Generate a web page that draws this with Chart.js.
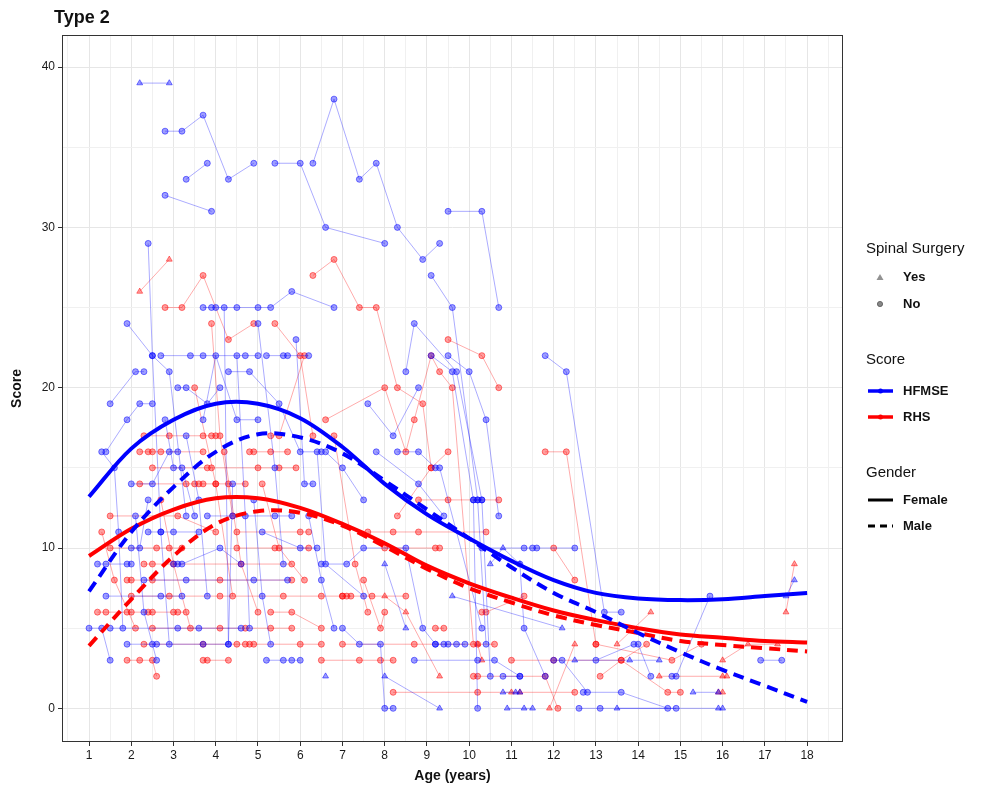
<!DOCTYPE html>
<html>
<head>
<meta charset="utf-8">
<script src="https://cdn.jsdelivr.net/npm/chart.js@4.4.1/dist/chart.umd.min.js"></script>
<style>
    body { margin: 0; background: #fff; font-family: "Liberation Sans", Arial, sans-serif; }
    #wrap { position: relative; width: 981px; height: 788px; }
    #title { position: absolute; left: 54px; top: 7px; font-size: 18px; font-weight: bold; color: #111; }
    .lt { position: absolute; left: 866px; font-size: 15px; color: #111; line-height: 18px; }
    .li { position: absolute; left: 866px; font-size: 13px; font-weight: bold; color: #111; line-height: 16px; }
    .li svg { position: absolute; left: 0; top: 0; }
    .li span { position: absolute; left: 37px; top: 0; white-space: nowrap; }
</style>
</head>
<body>
<div id="wrap">
    <canvas id="typeChart" width="981" height="788"></canvas>
    <div id="title">Type 2</div>

    <div class="lt" style="top:239px">Spinal Surgery</div>
    <div class="li" style="top:269px"><svg width="30" height="16"><polygon points="14,5 17.5,11 10.5,11" fill="#777" opacity="0.8"/></svg><span>Yes</span></div>
    <div class="li" style="top:296px"><svg width="30" height="16"><circle cx="14" cy="8" r="2.6" fill="#888" stroke="#555" stroke-width="0.8"/></svg><span>No</span></div>

    <div class="lt" style="top:350px">Score</div>
    <div class="li" style="top:383px"><svg width="30" height="16"><line x1="2" y1="8" x2="27" y2="8" stroke="#0000ff" stroke-width="3.5"/><circle cx="14.5" cy="8" r="2.5" fill="#0000ff"/></svg><span>HFMSE</span></div>
    <div class="li" style="top:409px"><svg width="30" height="16"><line x1="2" y1="8" x2="27" y2="8" stroke="#ff0000" stroke-width="3.5"/><circle cx="14.5" cy="8" r="2.5" fill="#ff0000"/></svg><span>RHS</span></div>

    <div class="lt" style="top:463px">Gender</div>
    <div class="li" style="top:492px"><svg width="30" height="16"><line x1="2" y1="8" x2="27" y2="8" stroke="#000" stroke-width="3"/></svg><span>Female</span></div>
    <div class="li" style="top:518px"><svg width="30" height="16"><line x1="2" y1="8" x2="27" y2="8" stroke="#000" stroke-width="3" stroke-dasharray="7,5"/></svg><span>Male</span></div>
</div>

<script>
// tick labels
const ageTicks = [1, 2, 3, 4, 5, 6, 7, 8, 9, 10, 11, 12, 13, 14, 15, 16, 17, 18];
const scoreTicks = [0, 10, 20, 30, 40];

// smoothed group curves, read at whole years
const curveAges = [1, 2, 3, 4, 5, 6, 7, 8, 9, 10, 11, 12, 13, 14, 15, 16, 17, 18];
const hfmseFemale = [13.2, 16.2, 18.0, 19.0, 19.0, 18.1, 16.3, 14.0, 12.1, 10.6, 9.2, 8.0, 7.2, 6.85, 6.75, 6.8, 7.0, 7.2];
const hfmseMale = [7.3, 11.0, 13.8, 16.0, 17.1, 16.9, 15.9, 14.2, 12.4, 10.6, 8.8, 7.2, 6.0, 4.7, 3.5, 2.4, 1.4, 0.4];
const rhsFemale = [9.5, 11.2, 12.4, 13.1, 13.1, 12.5, 11.5, 10.3, 8.9, 7.8, 6.9, 6.1, 5.5, 5.0, 4.6, 4.4, 4.2, 4.1];
const rhsMale = [3.9, 6.8, 9.5, 11.5, 12.3, 12.2, 11.4, 10.1, 8.7, 7.5, 6.6, 5.8, 5.2, 4.7, 4.2, 3.95, 3.75, 3.55];

// one entry per patient: [age, score] visits
const hfmseNo = [
    [[2.8, 36], [3.2, 36], [3.7, 37], [4.3, 33], [4.9, 34]],
    [[3.3, 33], [3.8, 34]],
    [[2.8, 32], [3.9, 31]],
    [[5.4, 34], [6.0, 34], [6.6, 30], [8.0, 29]],
    [[6.3, 34], [6.8, 38], [7.4, 33], [7.8, 34], [8.3, 30], [8.9, 28], [9.3, 29]],
    [[9.5, 31], [10.3, 31], [10.7, 25]],
    [[9.1, 27], [9.6, 25], [10.2, 13], [10.4, 4]],
    [[8.5, 21], [8.7, 24], [9.7, 21], [10.3, 13], [10.5, 2]],
    [[9.1, 22], [9.6, 21], [10.1, 13], [10.2, 0]],
    [[9.5, 22], [10.0, 21], [10.4, 18], [10.7, 12]],
    [[2.4, 29], [2.5, 22], [2.7, 11], [2.9, 4]],
    [[1.9, 24], [2.5, 22], [2.9, 21], [3.3, 12]],
    [[3.7, 25], [3.9, 25], [4.0, 25], [4.5, 25], [5.0, 25], [5.3, 25], [5.8, 26], [6.8, 25]],
    [[2.7, 22], [3.4, 22], [3.7, 22], [4.7, 22], [5.0, 22]],
    [[5.2, 22], [5.6, 22], [5.7, 22], [6.2, 22]],
    [[1.5, 19], [2.1, 21], [2.3, 21]],
    [[1.4, 16], [1.9, 18], [2.2, 19], [2.5, 19]],
    [[3.1, 20], [3.3, 20], [3.8, 19], [4.1, 20]],
    [[4.3, 21], [4.8, 21], [5.5, 19], [6.0, 16], [6.5, 16]],
    [[2.8, 18], [3.0, 15], [3.2, 15], [3.5, 12]],
    [[3.7, 18], [4.0, 22], [4.5, 18], [5.0, 18]],
    [[5.9, 23], [6.1, 14], [6.3, 14]],
    [[1.3, 16], [1.6, 15], [1.7, 11], [1.8, 5]],
    [[2.0, 14], [2.5, 14], [2.9, 16], [3.1, 16]],
    [[3.8, 12], [4.4, 12], [5.4, 12], [5.8, 12]],
    [[2.4, 11], [2.7, 11], [3.0, 11], [3.6, 11]],
    [[5.1, 11], [6.0, 10], [6.4, 10]],
    [[1.2, 9], [1.4, 9], [1.9, 9], [2.0, 9]],
    [[3.0, 9], [3.1, 9], [3.2, 9], [4.1, 10], [4.6, 9]],
    [[2.3, 8], [3.3, 8], [4.9, 8], [5.7, 8]],
    [[1.4, 7], [2.7, 7], [3.2, 7]],
    [[1.5, 5], [3.1, 5], [3.6, 5], [4.6, 5]],
    [[1.9, 4], [2.5, 4], [2.6, 4], [3.7, 4], [4.3, 4]],
    [[5.2, 3], [5.6, 3], [5.8, 3], [6.0, 3]],
    [[4.2, 25], [4.4, 14], [4.3, 4]],
    [[4.5, 22], [4.7, 12], [4.8, 5]],
    [[5.0, 24], [5.4, 15], [5.6, 9]],
    [[6.6, 16], [7.0, 15], [7.5, 13]],
    [[6.5, 9], [7.1, 9], [7.5, 10], [8.5, 10], [8.9, 5], [9.2, 4]],
    [[7.6, 19], [8.2, 17], [8.8, 20]],
    [[7.8, 16], [8.8, 14], [9.4, 12]],
    [[8.3, 16], [8.8, 16], [9.2, 15], [9.3, 15], [10.3, 5]],
    [[7.0, 5], [7.4, 4], [7.9, 4], [8.0, 0], [8.2, 0]],
    [[9.2, 4], [9.4, 4], [9.5, 4], [9.7, 4], [9.9, 4]],
    [[8.7, 3], [10.2, 3], [10.6, 3], [11.2, 2]],
    [[10.1, 13], [10.2, 13], [10.3, 13]],
    [[10.3, 10], [11.3, 10], [11.5, 10], [11.6, 10], [12.5, 10]],
    [[11.8, 22], [12.3, 21], [13.2, 6], [13.6, 6]],
    [[11.2, 9], [11.3, 5], [11.8, 2]],
    [[12.0, 3], [12.2, 3], [12.8, 1]],
    [[12.7, 1], [13.6, 1], [14.7, 0]],
    [[13.0, 3], [13.9, 4], [14.0, 4], [14.3, 2]],
    [[14.8, 2], [14.9, 2], [15.7, 7]],
    [[16.9, 3], [17.4, 3]],
    [[12.6, 0], [13.1, 0], [14.9, 0]],
    [[10.8, 2], [11.2, 2]],
    [[6.4, 16], [6.6, 9], [7.5, 7]],
    [[1.0, 5], [1.3, 5], [1.5, 3]],
    [[2.0, 10], [2.2, 10], [2.4, 13]],
    [[3.3, 17], [3.6, 13], [3.8, 7]],
    [[4.9, 13], [5.1, 7], [5.3, 4]],
    [[6.2, 12], [6.5, 8], [6.8, 5]],
    [[2.1, 12], [2.3, 6], [2.6, 3]]
];

const hfmseYes = [
    [[2.2, 39], [2.9, 39]],
    [[10.5, 9], [10.8, 10], [11.2, 9]],
    [[8.0, 9], [8.5, 5]],
    [[9.6, 7], [12.2, 5]],
    [[10.9, 0], [11.3, 0], [11.5, 0]],
    [[8.0, 2], [9.3, 0]],
    [[12.5, 3], [13.8, 3], [14.5, 3]],
    [[13.5, 0], [15.9, 0], [16.0, 0]],
    [[15.3, 1], [15.9, 1]],
    [[17.5, 7], [17.7, 8]],
    [[6.6, 2]],
    [[10.8, 1], [11.1, 1], [11.2, 1]]
];

const rhsNo = [
    [[2.8, 25], [3.2, 25], [3.7, 27], [4.3, 23], [4.9, 24]],
    [[5.4, 24], [6.0, 22], [6.3, 17]],
    [[6.3, 27], [6.8, 28], [7.4, 25], [7.8, 25], [8.3, 20], [8.9, 19], [9.1, 15]],
    [[6.6, 18], [8.0, 20], [8.5, 16], [8.7, 18], [9.1, 22], [9.3, 21], [9.6, 20], [10.1, 4]],
    [[9.5, 23], [10.3, 22], [10.7, 20]],
    [[2.3, 17], [2.9, 17], [3.7, 17], [3.9, 17], [4.0, 17]],
    [[5.3, 17], [5.5, 17], [6.1, 22]],
    [[2.2, 16], [2.4, 16], [2.5, 16], [2.7, 16], [3.7, 16]],
    [[4.8, 16], [4.9, 16], [5.3, 16], [5.7, 16]],
    [[2.5, 15], [3.8, 15], [3.9, 15], [5.0, 15], [5.5, 15], [5.9, 15]],
    [[2.2, 14], [3.3, 14], [3.5, 14], [3.6, 14], [3.7, 14], [4.0, 14], [4.3, 14], [4.7, 14]],
    [[1.5, 12], [3.1, 12], [4.0, 11]],
    [[4.5, 11], [6.0, 11], [6.2, 11]],
    [[1.5, 10], [2.6, 10], [2.9, 10], [3.2, 10]],
    [[4.5, 10], [5.4, 10], [6.2, 10]],
    [[2.3, 9], [2.5, 9], [5.8, 9]],
    [[1.9, 8], [2.0, 8], [2.5, 8], [4.1, 8], [5.8, 8]],
    [[2.0, 7], [2.9, 7], [4.1, 7], [5.6, 7], [6.5, 7], [7.0, 7], [7.1, 7], [7.2, 7]],
    [[1.2, 6], [1.4, 6], [1.9, 6], [2.0, 6], [2.4, 6], [2.5, 6], [3.0, 6], [3.1, 6], [3.3, 6]],
    [[5.3, 6], [5.8, 6], [6.5, 5]],
    [[2.5, 5], [4.1, 5], [4.7, 5], [5.3, 5], [5.8, 5]],
    [[2.3, 4], [3.7, 4], [4.5, 4], [4.7, 4], [4.8, 4], [4.9, 4], [6.0, 4], [6.5, 4]],
    [[1.9, 3], [2.2, 3], [2.5, 3], [2.6, 2]],
    [[3.7, 3], [3.8, 3], [4.3, 3]],
    [[6.5, 3], [7.4, 3], [7.9, 3], [8.2, 3]],
    [[7.0, 4], [8.7, 4], [10.2, 4], [10.6, 4]],
    [[7.6, 11], [8.2, 11], [8.8, 11], [10.4, 11]],
    [[8.8, 13], [9.5, 13], [10.7, 13]],
    [[8.3, 12], [9.1, 15], [9.5, 16]],
    [[7.0, 7], [7.7, 7], [8.5, 7]],
    [[8.0, 10], [9.2, 10], [9.3, 10]],
    [[7.5, 8], [7.9, 5], [8.0, 6]],
    [[9.2, 5], [9.4, 5]],
    [[10.3, 6], [10.4, 6], [11.3, 7]],
    [[11.8, 16], [12.3, 16], [13.0, 4]],
    [[12.0, 10], [12.5, 8]],
    [[11.0, 3], [12.0, 3], [13.6, 3], [14.2, 4]],
    [[8.2, 1], [10.2, 1], [12.5, 1]],
    [[10.1, 2], [10.2, 2], [11.8, 2], [12.1, 0]],
    [[13.1, 2], [13.6, 3], [14.7, 1], [15.0, 1]],
    [[13.0, 4], [14.8, 3], [15.5, 4]],
    [[6.8, 17], [7.3, 9], [7.6, 6]],
    [[3.5, 20], [4.0, 14], [4.4, 7]],
    [[1.3, 11], [1.6, 8], [2.1, 5]],
    [[2.7, 13], [3.0, 9], [3.4, 5]],
    [[4.2, 16], [4.6, 9], [5.0, 6]],
    [[5.1, 14], [5.5, 10], [6.1, 8]],
    [[3.9, 24], [4.1, 17], [4.4, 12]]
];

const rhsYes = [
    [[2.2, 26], [2.9, 28]],
    [[8.0, 7], [8.5, 6], [9.3, 2]],
    [[10.2, 4], [10.3, 3]],
    [[11.9, 0], [12.5, 4]],
    [[13.5, 4], [14.3, 6]],
    [[14.5, 2], [16.0, 2], [16.1, 2]],
    [[15.9, 1], [16.0, 1]],
    [[16.0, 3], [16.6, 4], [17.3, 4]],
    [[17.5, 6], [17.7, 9]],
    [[11.0, 1], [11.2, 1]]
];

function patientSets(list, rgb, shape) {
    return list.map(visits => ({
        data: visits.slice().sort((a, b) => a[0] - b[0]).map(v => ({ x: v[0], y: v[1] })),
        showLine: true,
        borderColor: 'rgba(' + rgb + ',0.33)',
        borderWidth: 1,
        pointStyle: shape,
        pointRadius: shape === 'triangle' ? 3.4 : 3,
        pointBackgroundColor: 'rgba(' + rgb + ',0.38)',
        pointBorderColor: 'rgba(' + rgb + ',0.5)',
        pointBorderWidth: 1,
        order: 1
    }));
}

function curveSet(values, color, dashed) {
    return {
        data: curveAges.map((a, i) => ({ x: a, y: values[i] })),
        showLine: true,
        borderColor: color,
        borderWidth: 4,
        borderDash: dashed ? [11, 7] : [],
        pointRadius: 0,
        tension: 0.35,
        order: -1
    };
}

const isWhole = v => Math.abs(v - Math.round(v)) < 1e-6;

const panelBorder = {
    id: 'panelBorder',
    afterDraw(chart) {
        const { ctx, chartArea: a } = chart;
        ctx.save();
        ctx.strokeStyle = '#333';
        ctx.lineWidth = 1;
        ctx.strokeRect(a.left + 0.5, a.top + 0.5, a.right - a.left - 1, a.bottom - a.top - 1);
        ctx.restore();
    }
};

const ctx = document.getElementById('typeChart').getContext('2d');
const typeChart = new Chart(ctx, {
    type: 'scatter',
    data: {
        datasets: [
            curveSet(hfmseFemale, '#0000ff', false),
            curveSet(hfmseMale, '#0000ff', true),
            curveSet(rhsFemale, '#ff0000', false),
            curveSet(rhsMale, '#ff0000', true),
            ...patientSets(hfmseNo, '0,0,255', 'circle'),
            ...patientSets(hfmseYes, '0,0,255', 'triangle'),
            ...patientSets(rhsNo, '255,0,0', 'circle'),
            ...patientSets(rhsYes, '255,0,0', 'triangle')
        ]
    },
    options: {
        responsive: false,
        animation: false,
        layout: { padding: { top: 35, right: 138, left: 0, bottom: 0 } },
        plugins: {
            legend: { display: false },
            tooltip: { enabled: false }
        },
        scales: {
            x: {
                type: 'linear',
                min: 0.36,
                max: 18.85,
                afterFit: s => { s.height = 46; },
                border: { display: false },
                grid: {
                    color: c => isWhole(c.tick.value) ? '#e6e6e6' : '#f0f0f0',
                    tickColor: c => isWhole(c.tick.value) ? '#333' : 'rgba(0,0,0,0)',
                    tickLength: 4
                },
                ticks: {
                    stepSize: 0.5,
                    includeBounds: false,
                    autoSkip: false,
                    maxRotation: 0,
                    padding: 2,
                    color: '#1a1a1a',
                    font: { family: '"Liberation Sans", Arial, sans-serif', size: 12 },
                    callback: v => ageTicks.includes(v) ? String(v) : ''
                },
                title: {
                    display: true,
                    text: 'Age (years)',
                    color: '#111',
                    font: { family: '"Liberation Sans", Arial, sans-serif', size: 14, weight: 'bold' },
                    padding: { top: 0, bottom: 3 }
                }
            },
            y: {
                type: 'linear',
                min: -2.1,
                max: 42,
                afterFit: s => { s.width = 62; },
                border: { display: false },
                grid: {
                    color: c => c.tick.value % 10 === 0 ? '#e6e6e6' : '#f0f0f0',
                    tickColor: c => c.tick.value % 10 === 0 ? '#333' : 'rgba(0,0,0,0)',
                    tickLength: 4
                },
                ticks: {
                    stepSize: 5,
                    includeBounds: false,
                    padding: 3,
                    color: '#1a1a1a',
                    font: { family: '"Liberation Sans", Arial, sans-serif', size: 12 },
                    callback: v => scoreTicks.includes(v) ? String(v) : ''
                },
                title: {
                    display: true,
                    text: 'Score',
                    color: '#111',
                    font: { family: '"Liberation Sans", Arial, sans-serif', size: 14, weight: 'bold' },
                    padding: { top: 9, bottom: 0 }
                }
            }
        }
    },
    plugins: [panelBorder]
});
</script>
</body>
</html>
